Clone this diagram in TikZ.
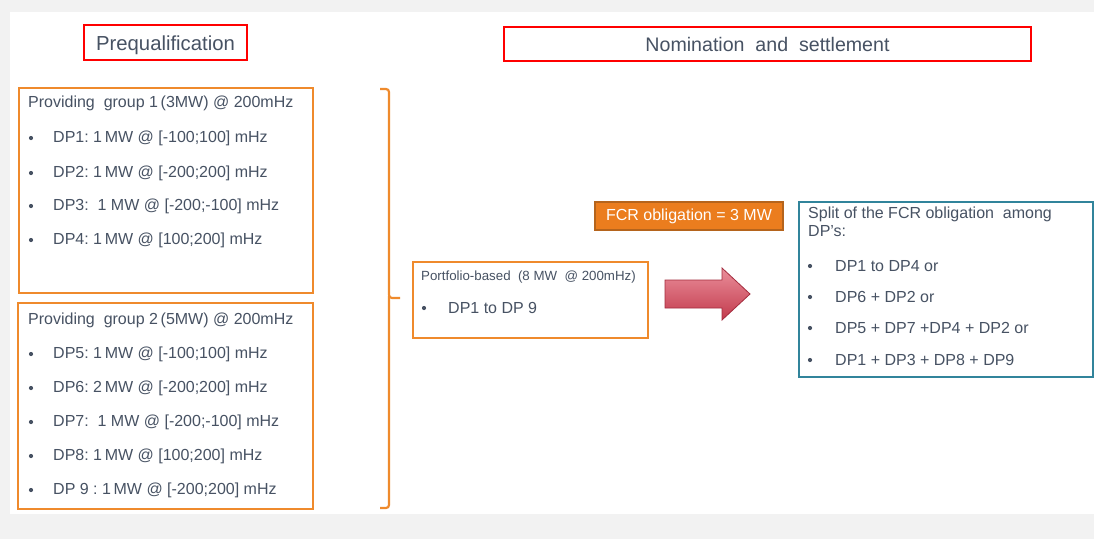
\documentclass[tikz,border=0pt]{standalone}
\usepackage{fontspec}
\setmainfont{Liberation Sans}
\usetikzlibrary{shadings}
\definecolor{bggray}{HTML}{F2F2F2}
\definecolor{txt}{HTML}{475263}
\definecolor{orangeb}{HTML}{EF8A2C}
\definecolor{redb}{HTML}{FF0000}
\definecolor{tealb}{HTML}{31849B}
\definecolor{fcrfill}{HTML}{EB7D1E}
\definecolor{fcrborder}{HTML}{B5641C}
\definecolor{arrtop}{HTML}{EA8E9A}
\definecolor{arrbot}{HTML}{C23A4C}
\definecolor{arrborder}{HTML}{A32C3E}
\tikzset{
  x=1pt, y=-1pt,
  txtline/.style={anchor=west, inner sep=0pt, text=txt, font=\fontsize{16}{18}\selectfont},
  smallline/.style={anchor=west, inner sep=0pt, text=txt, font=\fontsize{13.3}{15}\selectfont},
  bulletmark/.style={circle, fill=txt, inner sep=0pt, minimum size=4.2pt},
  titlebox/.style={draw=redb, line width=1.8pt, text=txt, inner sep=0pt},
  groupbox/.style={draw=orangeb, line width=2pt},
}
\begin{document}
\begin{tikzpicture}
\useasboundingbox (0,0) rectangle (1094,539);
\fill[bggray] (0,0) rectangle (1094,539);
\fill[white] (10,12) rectangle (1094,514);

% titles
\draw[draw=redb, line width=1.8pt] (84,25) rectangle (247,60);
\node[inner sep=0pt, text=txt, font=\fontsize{20.3}{23}\selectfont, anchor=base] (preq) at (165.5,50) {Prequalification};
\draw[draw=redb, line width=1.8pt] (504,27) rectangle (1031,61);
\node[inner sep=0pt, text=txt, font=\fontsize{19.6}{23}\selectfont, anchor=base] (nomin) at (767.5,51) {Nomination\ \ and\ \ settlement};

% group 1
\draw[groupbox] (19,88) rectangle (313,293);
\node[txtline] (g1t) at (28,103) {Providing\ \ group\ 1\,(3MW)\ @\ 200mHz};
\foreach \y/\t [count=\i] in {138/{DP1:\ 1\,MW\ @\ [-100;100]\ mHz},173/{DP2:\ 1\,MW\ @\ [-200;200]\ mHz},206/{DP3:\ \ 1\ MW\ @\ [-200;-100]\ mHz},240/{DP4:\ 1\,MW\ @\ [100;200]\ mHz}}{
  \node[bulletmark] (g1b\i) at (31,\y) {};
  \node[txtline] (g1l\i) at (53,\y) {\t};
}

% group 2
\draw[groupbox] (18,303) rectangle (313,509);
\node[txtline] (g2t) at (28,320) {Providing\ \ group\ 2\,(5MW)\ @\ 200mHz};
\foreach \y/\t [count=\i] in {354/{DP5:\ 1\,MW\ @\ [-100;100]\ mHz},388/{DP6:\ 2\,MW\ @\ [-200;200]\ mHz},422/{DP7:\ \ 1\ MW\ @\ [-200;-100]\ mHz},456/{DP8:\ 1\,MW\ @\ [100;200]\ mHz},490/{DP\ 9\ :\ 1\,MW\ @\ [-200;200]\ mHz}}{
  \node[bulletmark] (g2b\i) at (31,\y) {};
  \node[txtline] (g2l\i) at (53,\y) {\t};
}

% brace
\draw[orangeb, line width=2.2pt, rounded corners=3pt]
  (380,89) -- (389,89) -- (389,298) -- (400,298);
\draw[orangeb, line width=2.2pt, rounded corners=3pt]
  (389,296) -- (389,508) -- (380,508);

% portfolio box
\draw[groupbox] (413,262) rectangle (648,338);
\node[smallline] (pft) at (421,277) {Portfolio-based\ \ (8\ MW\ \ @\ 200mHz)};
\node[bulletmark] (pfb) at (424,308) {};
\node[txtline] (pfl) at (448,308) {DP1 to DP 9};

% FCR obligation
\node[draw=fcrborder, fill=fcrfill, line width=1.2pt, minimum width=188pt, minimum height=28pt, inner sep=0pt, text=white, font=\fontsize{16}{18}\selectfont] (fcr) at (689,216) {FCR obligation = 3 MW};

% arrow
\shade[top color=arrtop, bottom color=arrbot, draw=arrborder, line width=0.8pt]
  (665,280) -- (722,280) -- (722,268) -- (750,294) -- (722,320) -- (722,308) -- (665,308) -- cycle;

% split box
\draw[draw=tealb, line width=2pt] (799,202) rectangle (1093,377);
\node[txtline] (spt1) at (808,214) {Split of the FCR obligation\ \ among};
\node[txtline] (spt2) at (808,231) {DP’s:};
\foreach \y/\t [count=\i] in {266/{DP1 to DP4 or},297/{DP6 + DP2 or},328/{DP5 + DP7 +DP4 + DP2 or},360/{DP1 + DP3 + DP8 + DP9}}{
  \node[bulletmark] (spb\i) at (810,\y) {};
  \node[txtline] (spl\i) at (835,\y) {\t};
}
\end{tikzpicture}
\end{document}
